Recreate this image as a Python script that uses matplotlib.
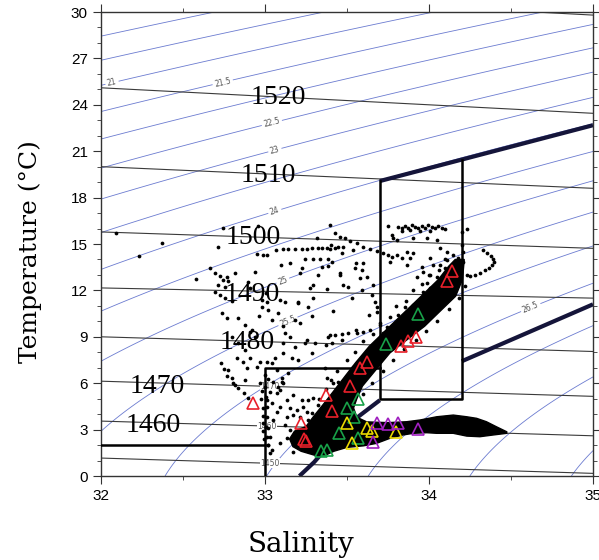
import numpy as np
import matplotlib
matplotlib.use("Agg")
import matplotlib.pyplot as plt
from matplotlib.patches import Polygon
from matplotlib.ticker import MultipleLocator

# --- sound speed isolines (m/s): temperature at S=32 (left) and S=35 (right)
c_levels = [1450, 1460, 1470, 1480, 1490, 1500, 1510, 1520, 1530]
c_left = [1.16, 3.55, 6.13, 9.0, 12.16, 15.78, 20.0, 25.1, 31.5]
c_right = [0.17, 2.6, 5.15, 8.05, 11.5, 14.72, 18.6, 23.45, 29.8]

# big labels for the sound speed lines
big_txt = ["1520", "1510", "1500", "1490", "1480", "1470", "1460"]
big_s = [33.08, 33.02, 32.93, 32.92, 32.89, 32.34, 32.32]
big_t = [24.45, 19.4, 15.4, 11.75, 8.6, 5.8, 3.25]

# small inline labels
small_txt = ["1470", "1460", "1450"]
small_s = [33.03, 33.01, 33.03]
small_t = [5.78, 3.22, 0.82]

# sigma-t contour levels and label positions
sig_levels = np.arange(19.5, 28.6, 0.5)
sig_lab_s = [32.07, 32.74, 33.04, 33.06, 33.06, 33.11, 33.14, 34.62]
sig_lab_t = [25.3, 25.55, 22.9, 21.08, 17.1, 12.6, 10.0, 10.9]

# thick water-mass traces
trace_top_s = [33.70, 35.0]
trace_top_t = [19.07, 22.68]
trace_lo1_s = [33.21, 33.30, 33.49, 33.70]
trace_lo1_t = [0.0, 0.9, 3.2, 4.9]
trace_lo2_s = [34.20, 35.0]
trace_lo2_t = [7.42, 11.1]

# dense core of observations (outline)
core_s = [34.16, 34.12, 34.057, 33.952, 33.846, 33.741, 33.636, 33.552, 33.489, 33.426,
          33.363, 33.30, 33.25, 33.18, 33.15, 33.17, 33.22, 33.30, 33.36, 33.42, 33.50,
          33.60, 33.68, 33.76, 33.84, 33.904, 33.986, 34.047, 34.148, 34.23, 34.31, 34.39,
          34.474, 34.474, 34.41, 34.35, 34.29, 34.23, 34.148, 34.047, 33.945, 33.864,
          33.75, 33.62, 33.56, 33.54, 33.56, 33.594, 33.678, 33.762, 33.867, 33.973,
          34.078, 34.162, 34.204, 34.215]
core_t = [14.0, 13.56, 12.70, 11.62, 10.54, 9.47, 8.39, 7.32, 6.46, 5.59,
          4.73, 3.9, 3.2, 2.9, 2.4, 1.9, 1.6, 1.35, 1.3, 1.6, 1.85,
          1.95, 2.11, 2.43, 2.65, 2.76, 2.80, 2.76, 2.76, 2.58, 2.54, 2.65,
          2.76, 2.86, 3.19, 3.51, 3.73, 3.83, 3.94, 3.83, 3.62, 3.51,
          3.45, 3.5, 3.8, 4.4, 5.0, 5.81, 6.89, 7.96, 8.82, 9.68,
          10.76, 11.62, 12.7, 14.0]

# scattered observations
dot_s = [
    32.09, 32.23, 32.37, 32.58,
    32.746, 32.96, 32.715, 32.95, 32.99, 33.01, 33.07,
    33.112, 33.142, 33.183, 33.224, 33.254, 33.285, 33.325, 33.346, 33.376, 33.397,
    33.244, 33.295, 33.336, 33.387, 33.10, 33.15, 33.224, 33.346, 33.407,
    33.325, 33.275, 33.376, 33.204, 33.295, 32.939, 32.899, 32.909, 32.98, 33.01,
    32.695, 32.726, 32.766, 32.817, 32.746, 32.777, 32.716, 32.756, 32.695, 32.726,
    32.756, 32.797, 32.665,
    32.736, 32.766, 32.837, 32.878, 32.909, 32.939, 32.797, 32.837, 32.878, 32.827,
    32.868, 32.909, 32.970, 33.010, 33.041, 32.949, 32.888, 32.777, 32.797, 32.817,
    32.878, 33.061, 33.112, 33.112, 33.163, 33.203, 33.285, 33.305, 33.244, 33.183,
    33.152, 33.122, 33.183, 33.041, 33.081, 32.980, 33.020, 33.203, 33.264, 33.122,
    33.386, 33.407, 33.071, 33.102, 33.142, 33.366, 33.376,
    33.32, 33.405, 33.468, 33.552, 33.594, 33.216, 33.29, 33.384, 33.457, 33.53,
    33.415, 33.289, 33.594, 33.636, 33.552, 33.468, 33.373, 33.258, 33.216, 33.11,
    33.09, 33.005, 32.963, 32.92,
    32.73, 32.75, 32.77, 32.805, 32.837, 32.87, 32.896,
    33.813, 33.833, 33.854, 33.874, 33.894, 33.915, 33.935, 33.955, 33.976, 33.996,
    34.016, 34.037, 34.057, 34.077, 33.884, 33.945, 34.006, 33.833, 34.098, 34.230,
    33.752, 33.773, 33.783,
    33.396, 33.427, 33.457, 33.488, 33.518, 33.559, 33.600, 33.640, 33.681, 33.722,
    33.752, 33.773, 33.803, 33.833, 33.762, 33.864,
    33.905, 33.986, 34.047, 33.803, 34.067, 34.108, 33.905, 34.006, 33.884, 33.955,
    34.108, 34.149, 34.179, 34.199, 34.199, 34.210, 34.210, 34.189, 34.169, 33.966,
    34.006, 33.925, 33.986, 34.006, 34.047, 33.966, 34.067, 34.027, 34.098, 34.047,
    33.864,
    34.33, 34.355, 34.375, 34.39, 34.395, 34.385, 34.365, 34.34, 34.31, 34.28, 34.25,
    33.457, 33.549, 33.600, 33.620, 33.579, 33.478, 33.508, 33.661, 33.650, 33.427,
    33.447, 33.478, 33.539,
    33.671, 33.681, 33.681, 33.813, 33.874, 33.854, 33.905, 33.396, 33.427, 33.468,
    33.508, 33.559, 33.60, 33.64, 33.701, 33.742, 33.722, 33.762, 33.661, 33.63,
    33.579, 33.539, 33.498, 33.447, 33.417, 33.65,
    33.132, 33.173, 33.223, 33.264, 33.295, 33.325, 33.234, 33.193, 33.152, 33.254,
    33.285, 33.346, 33.213, 33.173, 33.132, 33.264, 33.305, 33.376, 33.325, 33.152,
    33.183, 33.122, 33.091, 33.081, 33.030, 33.010, 33.041, 33.071, 33.051, 33.020,
    33.030, 33.020, 33.041, 33.091, 33.132, 33.173,
    33.0, 33.006, 33.01, 33.014, 33.006, 33.01, 33.02, 33.03, 33.071, 33.091,
    33.112, 33.051, 33.102,
    32.97, 32.98, 32.975, 32.985, 32.99, 32.985, 32.99, 32.995, 33.0, 33.02,
]
dot_t = [
    15.7, 14.2, 15.06, 12.74,
    16.05, 16.18, 14.82, 14.33, 14.29, 14.29, 14.61,
    14.67, 14.69, 14.70, 14.68, 14.70, 14.71, 14.72, 14.73, 14.71, 14.68,
    14.06, 14.06, 14.02, 14.0, 13.64, 13.74, 13.46, 13.53, 13.85,
    12.99, 12.13, 12.09, 11.27, 11.48, 13.21, 12.56, 12.13, 11.39, 11.27,
    13.1, 12.95, 12.88, 13.1, 12.67, 12.60, 12.35, 12.24, 11.87, 11.7,
    11.48, 11.31, 13.43,
    10.52, 10.19, 10.19, 9.76, 9.33, 9.0, 9.0, 8.58, 8.15, 7.61,
    7.39, 7.61, 7.39, 7.39, 7.29, 7.07, 6.96, 6.85, 6.31, 5.88,
    6.21, 7.61, 8.58, 7.93, 7.61, 7.50, 7.93, 8.58, 8.58, 8.36,
    9.0, 9.22, 10.08, 10.08, 10.52, 10.95, 10.73, 11.16, 10.95, 11.27,
    9.0, 8.58, 6.85, 6.31, 6.64, 6.96, 6.31,
    15.39, 14.96, 14.42, 13.77, 13.34, 13.13, 12.37, 13.56, 13.02, 11.51,
    10.65, 10.33, 12.05, 10.44, 9.47, 8.82, 8.5, 8.82, 9.90, 9.68,
    11.4, 11.84, 10.33, 9.47,
    7.3, 6.9, 6.46, 6.03, 5.70, 5.38, 5.06,
    16.12, 16.01, 16.18, 16.05, 16.23, 16.12, 16.01, 16.18, 16.05, 16.23,
    16.12, 16.01, 16.16, 16.05, 15.90, 15.84, 15.84, 15.84, 15.97, 15.97,
    16.18, 15.58, 15.37,
    16.23, 15.69, 15.47, 15.37, 15.19, 15.04, 14.83, 14.67, 14.54, 14.40,
    14.29, 14.18, 14.29, 14.07, 13.86, 14.50,
    15.37, 15.37, 15.26, 15.26, 14.72, 14.50, 14.40, 14.07, 14.07, 13.54,
    13.96, 14.29, 14.07, 15.79, 14.94, 14.50, 13.86, 13.43, 13.21, 13.21,
    13.0, 12.89, 12.46, 12.13, 11.92, 11.92, 13.64, 13.64, 13.43, 12.89,
    13.64,
    14.6, 14.45, 14.25, 14.05, 13.85, 13.65, 13.45, 13.3, 13.15, 13.02, 12.92,
    13.11, 13.43, 13.75, 12.89, 12.78, 12.35, 12.24, 12.35, 11.70, 14.72,
    14.83, 14.83, 14.61,
    11.27, 10.95, 10.62, 10.41, 10.19, 10.95, 11.05, 9.12, 9.12, 9.16,
    9.22, 9.27, 9.33, 9.44, 9.76, 9.65, 9.22, 9.0, 7.93, 7.61,
    7.39, 7.07, 6.21, 6.10, 6.0, 8.36,
    4.91, 5.24, 4.91, 4.91, 5.02, 4.59, 4.48, 4.27, 4.38, 4.16,
    4.05, 4.05, 3.84, 3.94, 3.84, 3.62, 3.51, 3.62, 3.19, 2.97,
    2.76, 3.30, 4.48, 5.78, 5.45, 4.91, 4.70, 4.16, 3.62, 3.08,
    2.54, 2.01, 1.68, 2.11, 2.44, 1.57,
    5.78, 5.13, 4.48, 3.84, 3.19, 2.54, 2.01, 1.47, 5.34, 5.56,
    5.99, 6.10, 6.10,
    6.0, 5.5, 5.0, 4.4, 3.9, 3.4, 2.9, 2.4, 6.5, 6.3,
]

# observations hugging the dense core
halo_s = [33.33, 33.37, 33.40, 33.44, 33.50, 33.55, 33.60, 33.66, 33.70, 33.76, 33.80,
          33.86, 33.90, 33.96, 34.00, 34.06, 34.10,
          33.60, 33.65, 33.72, 33.78, 33.85, 33.92, 33.98, 34.05, 34.12, 34.18, 34.22, 34.23]
halo_t = [5.0, 5.6, 6.2, 6.8, 7.5, 8.0, 8.7, 9.2, 9.9, 10.3, 11.0,
          11.3, 12.0, 12.4, 13.0, 13.3, 14.0,
          5.3, 6.0, 6.8, 7.5, 8.2, 8.8, 9.4, 10.0, 10.8, 11.5, 12.3, 13.0]

# station triangles
red_s = [34.14, 34.11, 33.92, 33.87, 33.83, 33.62, 33.58, 33.52, 33.37, 33.41, 32.925, 33.22, 33.24, 33.25]
red_t = [13.25, 12.6, 9.0, 8.7, 8.4, 7.4, 7.0, 5.85, 5.24, 4.2, 4.75, 3.4, 2.4, 2.25]
green_s = [33.74, 33.93, 33.57, 33.50, 33.54, 33.45, 33.57, 33.34, 33.38]
green_t = [8.55, 10.5, 5.0, 4.4, 3.8, 2.78, 2.45, 1.6, 1.65]
yellow_s = [33.62, 33.80, 33.53, 33.50, 33.65]
yellow_t = [3.1, 2.85, 2.15, 3.45, 2.9]
purple_s = [33.68, 33.75, 33.81, 33.93, 33.66]
purple_t = [3.45, 3.35, 3.45, 3.05, 2.2]


def sigma_t(S, T):
    """UNESCO EOS-80 density anomaly at surface pressure."""
    rw = (999.842594 + 6.793952e-2 * T - 9.095290e-3 * T**2 + 1.001685e-4 * T**3
          - 1.120083e-6 * T**4 + 6.536332e-9 * T**5)
    A = 8.24493e-1 - 4.0899e-3 * T + 7.6438e-5 * T**2 - 8.2467e-7 * T**3 + 5.3875e-9 * T**4
    B = -5.72466e-3 + 1.0227e-4 * T - 1.6546e-6 * T**2
    C = 4.8314e-4
    return rw + A * S + B * S**1.5 + C * S**2 - 1000.0


fig = plt.figure(figsize=(5.99, 5.60), dpi=100)
ax = fig.add_axes([101 / 599, 1 - 476 / 560, 492 / 599, 464 / 560])
ax.set_xlim(32, 35)
ax.set_ylim(0, 30)

# density contours
SS, TT = np.meshgrid(np.linspace(32, 35, 300), np.linspace(0, 30, 300))
cs = ax.contour(SS, TT, sigma_t(SS, TT), levels=sig_levels, colors="#6b7bd0",
                linewidths=0.6, zorder=1)
ax.clabel(cs, fmt="%g", fontsize=5.5, colors="#555555", inline=True, inline_spacing=2,
          manual=list(zip(sig_lab_s, sig_lab_t)))

# sound speed lines
for l, r in zip(c_left, c_right):
    ax.plot([32, 35], [l, r], color="#3a3a3a", lw=0.8, zorder=1.5)
for txt, s, t in zip(small_txt, small_s, small_t):
    ax.text(s, t, txt, fontsize=5.5, color="#555555", ha="center", va="center", zorder=1.8,
            bbox=dict(facecolor="white", edgecolor="none", pad=0.3))

# thick traces
for xs, ys in [(trace_top_s, trace_top_t), (trace_lo1_s, trace_lo1_t), (trace_lo2_s, trace_lo2_t)]:
    ax.plot(xs, ys, color="#15153a", lw=3.0, solid_capstyle="butt", zorder=2)

# boxes
box_kw = dict(color="black", lw=1.8, zorder=3)
ax.plot([32, 33], [2, 2], **box_kw)
ax.plot([33, 33, 33.7], [0, 7, 7], **box_kw)
ax.plot([33.7, 33.7, 34.2, 34.2], [19.07, 5, 5, 20.46], **box_kw)

# observations
ax.add_patch(Polygon(np.column_stack([core_s, core_t]), closed=True, facecolor="black",
                     edgecolor="black", lw=1.0, zorder=4))
ax.plot(dot_s, dot_t, "o", color="black", ms=2.7, mew=0, zorder=4)
ax.plot(halo_s, halo_t, "o", color="black", ms=2.7, mew=0, zorder=4)

tri = dict(marker="^", ls="none", ms=9, mfc="none", mew=1.2, zorder=5)
ax.plot(red_s, red_t, mec="#e8202a", **tri)
ax.plot(green_s, green_t, mec="#18a048", **tri)
ax.plot(yellow_s, yellow_t, mec="#e8d800", **tri)
ax.plot(purple_s, purple_t, mec="#a020c0", **tri)

for txt, s, t in zip(big_txt, big_s, big_t):
    ax.text(s, t, txt, fontsize=20, family="Liberation Serif", ha="center", va="center",
            color="black", zorder=6)

# axes styling
ax.xaxis.set_major_locator(MultipleLocator(1))
ax.xaxis.set_minor_locator(MultipleLocator(0.5))
ax.yaxis.set_major_locator(MultipleLocator(3))
ax.yaxis.set_minor_locator(MultipleLocator(1))
ax.tick_params(which="both", direction="out", top=True, right=True, colors="#333333",
               labelcolor="black", labelsize=11)
ax.tick_params(which="major", length=6, width=0.8)
ax.tick_params(which="minor", length=3, width=0.6)
for lab in ax.get_xticklabels() + ax.get_yticklabels():
    lab.set_family("Liberation Sans")
for sp in ax.spines.values():
    sp.set_color("#333333")
    sp.set_linewidth(1.0)

fig.text(30 / 599, 1 - 252 / 560, "Temperature (°C)", rotation=90, ha="center", va="center",
         fontsize=18, family="DejaVu Serif")
fig.text(301 / 599, 1 - 545 / 560, "Salinity", ha="center", va="center",
         fontsize=20, family="DejaVu Serif")

fig.savefig("out.png", dpi=100)
